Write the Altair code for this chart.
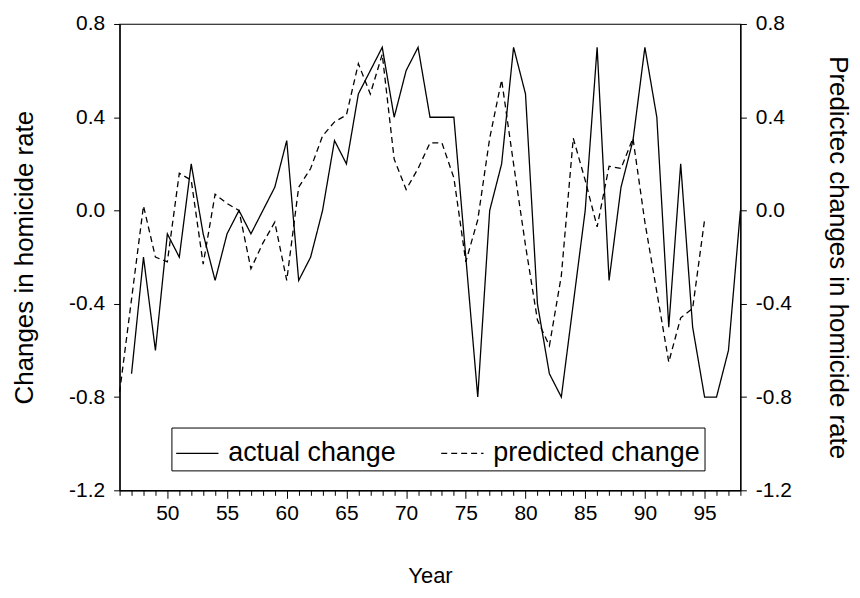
import altair as alt
import pandas as pd

# ---- data ----
years_actual = list(range(47, 99))
actual_change = [-0.7, -0.2, -0.6, -0.1, -0.2, 0.2, -0.1, -0.3, -0.1, 0.0,
                 -0.1, 0.0, 0.1, 0.3, -0.3, -0.2, 0.0, 0.3, 0.2, 0.5,
                 0.6, 0.7, 0.4, 0.6, 0.7, 0.4, 0.4, 0.4, -0.2, -0.8,
                 0.0, 0.2, 0.7, 0.5, -0.4, -0.7, -0.8, -0.4, 0.0, 0.7,
                 -0.3, 0.1, 0.3, 0.7, 0.4, -0.5, 0.2, -0.5, -0.8, -0.8,
                 -0.6, 0.0]
years_predicted = list(range(46, 96))
predicted_change = [-0.78, -0.38, 0.02, -0.2, -0.22, 0.16, 0.13, -0.23, 0.07, 0.03,
                    0.0, -0.25, -0.14, -0.05, -0.3, 0.1, 0.18, 0.32, 0.38, 0.41,
                    0.63, 0.5, 0.67, 0.22, 0.09, 0.18, 0.29, 0.29, 0.14, -0.22,
                    -0.04, 0.31, 0.56, 0.2, -0.15, -0.47, -0.58, -0.28, 0.31, 0.13,
                    -0.07, 0.19, 0.18, 0.31, -0.05, -0.35, -0.65, -0.46, -0.42, -0.04]
series_names = ["actual change", "predicted change"]
y_ticks = [-1.2, -0.8, -0.4, 0.0, 0.4, 0.8]
x_ticks = list(range(46, 99))

df_a = pd.DataFrame({"year": years_actual, "value": actual_change, "series": series_names[0]})
df_p = pd.DataFrame({"year": years_predicted, "value": predicted_change, "series": series_names[1]})

FONT = "Liberation Sans"

x_enc = alt.X(
    "year:Q",
    scale=alt.Scale(domain=[46, 98], nice=False, zero=False),
    axis=alt.Axis(
        values=x_ticks,
        labelExpr="datum.value % 5 === 0 ? datum.label : ''",
        tickSize={"condition": {"test": "datum.value % 5 === 0", "value": 8}, "value": 5},
        labelPadding=4,
        labelFontSize=21,
        title="Year",
        titleFontSize=22,
        titleFontWeight="normal",
        titleY=86,
        titleBaseline="middle",
        grid=False,
    ),
)

y_scale = alt.Scale(domain=[-1.2, 0.8], nice=False, zero=False)
lab_expr = "replace(format(datum.value, '.1f'), '\u2212', '-')"

y_left = alt.Y(
    "value:Q",
    scale=y_scale,
    axis=alt.Axis(
        orient="left",
        values=y_ticks,
        labelExpr=lab_expr,
        tickSize=6,
        labelPadding=9,
        labelFontSize=21,
        title="Changes in homicide rate",
        titleFontSize=26,
        titleFontWeight="normal",
        titleX=-95,
        titleY=234,
        titleBaseline="middle",
        grid=False,
    ),
)
y_right = alt.Y(
    "value:Q",
    scale=y_scale,
    axis=alt.Axis(
        orient="right",
        values=y_ticks,
        labelExpr=lab_expr,
        tickSize=6,
        labelPadding=9,
        labelFontSize=21,
        title="Predictec changes in homicide rate",
        titleFontSize=26,
        titleFontWeight="normal",
        titleX=97,
        titleY=234,
        titleBaseline="middle",
        grid=False,
    ),
)

dash = alt.StrokeDash(
    "series:N",
    scale=alt.Scale(domain=series_names, range=[[1, 0], [6, 4]]),
    legend=alt.Legend(
        title=None,
        orient="none",
        legendX=52,
        legendY=405,
        direction="horizontal",
        strokeColor="black",
        fillColor="white",
        padding=4,
        labelFont=FONT,
        labelFontSize=27,
        labelColor="black",
        labelLimit=400,
        symbolType="stroke",
        symbolSize=1800,
        symbolStrokeWidth=1.3,
        symbolStrokeColor="black",
        columnPadding=42,
        labelOffset=9,
    ),
)

line_a = alt.Chart(df_a).mark_line(color="black", strokeWidth=1.3).encode(
    x=x_enc, y=y_left, strokeDash=dash
)
line_p = alt.Chart(df_p).mark_line(color="black", strokeWidth=1.3).encode(
    x=x_enc, y=y_right, strokeDash=dash
)

chart = (
    alt.layer(line_a, line_p)
    .resolve_axis(y="independent")
    .properties(
        width=623,
        height=468,
        autosize=alt.AutoSizeParams(type="none"),
        padding={"left": 112, "top": 15, "right": 112, "bottom": 97},
        background="white",
    )
    .configure_view(stroke="black", strokeWidth=1.2)
    .configure_axis(
        domainColor="black",
        tickColor="black",
        labelColor="black",
        titleColor="black",
        labelFont=FONT,
        titleFont=FONT,
        domainWidth=1.2,
        tickWidth=1,
    )
)

chart.save("out.html", embed_options={"renderer": "svg", "actions": False})
